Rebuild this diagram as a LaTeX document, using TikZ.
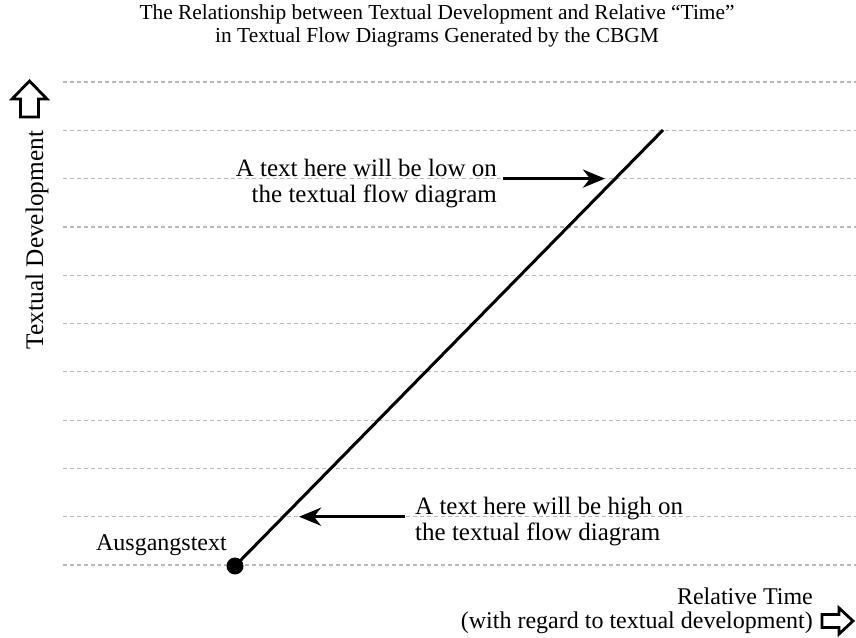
\documentclass[tikz,border=0pt]{standalone}
\usepackage{fontspec}
\setmainfont{Liberation Serif}
\usetikzlibrary{arrows.meta}
\begin{document}
\begin{tikzpicture}[x=1pt,y=-1pt,
  grid/.style={draw=black!28, line width=1.2pt, dash pattern=on 4pt off 3pt},
  lbl/.style={font=\fontsize{25}{27}\selectfont, inner sep=0pt},
  axl/.style={font=\fontsize{24}{26}\selectfont, inner sep=0pt},
  ttl/.style={font=\fontsize{21.4}{23}\selectfont, inner sep=0pt},
  ptr/.style={line width=3.5pt, -{Stealth[length=22pt,width=18pt,inset=7pt]}},
  blockarrow/.style={draw, line width=2.8pt, line join=miter, fill=white}]
\useasboundingbox (0,0) rectangle (856,637);
% dotted grid lines
\foreach \k in {0,...,10}
  \draw[grid] (63,{82+48.3*\k}) -- (856,{82+48.3*\k});
% title
\node[ttl, anchor=base] (title1) at (437,19) {The Relationship between Textual Development and Relative “Time”};
\node[ttl, anchor=base] (title2) at (437,42) {in Textual Flow Diagrams Generated by the CBGM};
% axis labels
\node[lbl, font=\fontsize{25.3}{28}\selectfont, rotate=90, anchor=base] (ylabel) at (43,240) {Textual Development};
\node[axl, anchor=base east] (xlabel1) at (813,604) {Relative Time};
\node[axl, anchor=base east] (xlabel2) at (813,628) {(with regard to textual development)};
% block arrows
\draw[blockarrow] (29.5,81) -- (47,99) -- (38.5,99) -- (38.5,117) -- (20.5,117) -- (20.5,99) -- (12,99) -- cycle;
\draw[blockarrow] (853,621) -- (839,634) -- (839,627.5) -- (822,627.5) -- (822,614.5) -- (839,614.5) -- (839,608) -- cycle;
% main line
\coordinate (origin) at (235,566);
\coordinate (top) at (663,130);
\draw[line width=3pt] (origin) -- (top);
\node[circle, fill=black, minimum size=17pt, inner sep=0pt] (dot) at (origin) {};
\node[lbl, font=\fontsize{24}{26}\selectfont, anchor=base east] (ausg) at (227,550) {Ausgangstext};
% upper label + arrow
\node[lbl, anchor=base east] (low1) at (497,176) {A text here will be low on};
\node[lbl, anchor=base east] (low2) at (497,202) {the textual flow diagram};
\coordinate (lowtail) at (503,178.6);
\coordinate (lowtip) at (605,178.6);
\draw[ptr] (lowtail) -- (lowtip);
% lower label + arrow
\node[lbl, anchor=base west] (high1) at (415,514) {A text here will be high on};
\node[lbl, anchor=base west] (high2) at (415,540) {the textual flow diagram};
\coordinate (hightail) at (405,516.7);
\coordinate (hightip) at (299,516.7);
\draw[ptr] (hightail) -- (hightip);
\end{tikzpicture}
\end{document}
